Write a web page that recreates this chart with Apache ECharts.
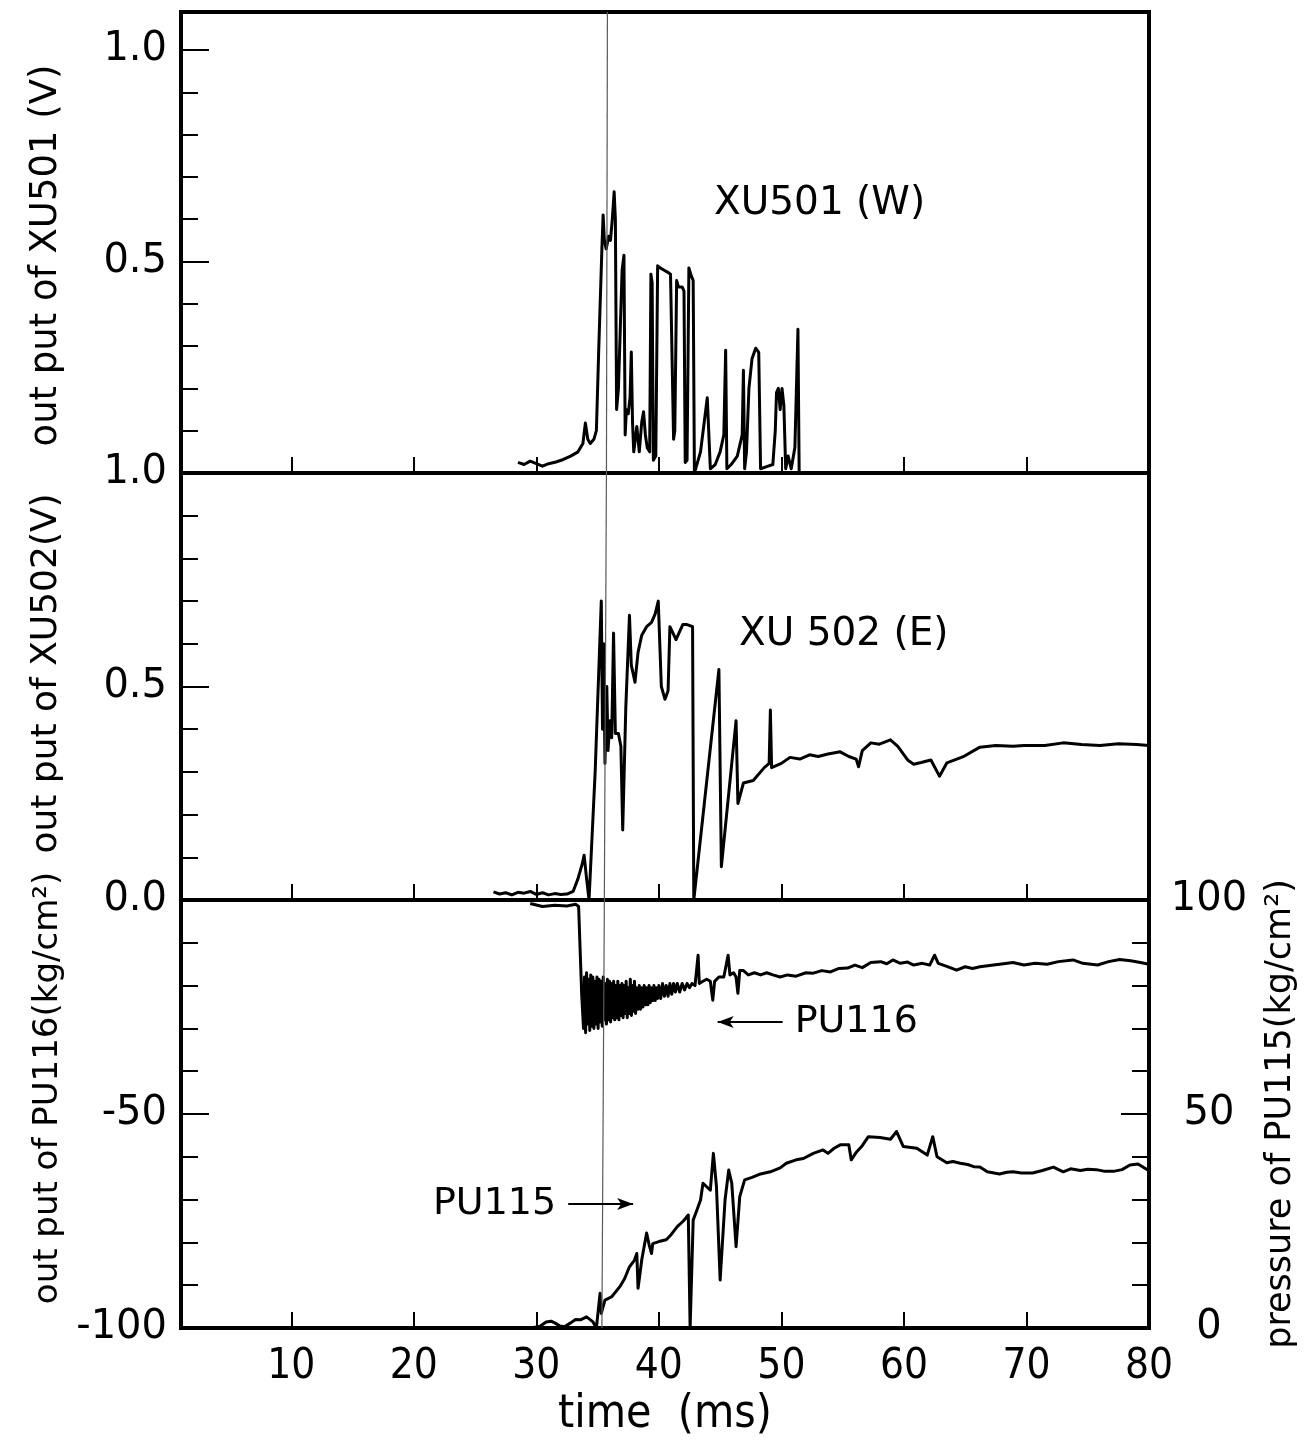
<!DOCTYPE html>
<html>
<head>
<meta charset="utf-8">
<script src="https://cdn.jsdelivr.net/npm/echarts@6/dist/echarts.min.js"></script>
<style>
  html, body { margin: 0; padding: 0; background: #fff; }
  #chart { width: 1308px; height: 1455px; }
</style>
</head>
<body>
<div id="chart"></div>
<script>
// ---- time axis (ms) ----
const timeMin = 1;
const timeMax = 80;
const timeTicks = [10, 20, 30, 40, 50, 60, 70, 80];

// ---- tick values for each panel ----
const xu501Major = [0.5, 1.0];
const xu501Minor = [0.1, 0.2, 0.3, 0.4, 0.6, 0.7, 0.8, 0.9];
const xu502Major = [0, 0.5, 1.0];
const xu502Minor = [0.1, 0.2, 0.3, 0.4, 0.6, 0.7, 0.8, 0.9];
const pu116Major = [-50];
const pu116Labels = [-50, -100];
const pu116Minor = [-90, -80, -70, -60, -40, -30, -20, -10];
const pu115Major = [50];
const pu115Labels = [0, 50, 100];
const pu115Minor = [10, 20, 30, 40, 60, 70, 80, 90];

// ---- cursor line time (ms), top / bottom of each panel ----
const cursorTop = [35.8, 35.72];
const cursorMid = [35.72, 35.55];
const cursorBot = [35.55, 35.35];

// ---- XU501 (W) output, V ----
const xu501 = [
  [28.5,0.025],[29.0,0.02],[29.5,0.028],[30.0,0.022],[30.5,0.016],[31.0,0.022],[31.6,0.026],[32.2,0.032],
  [32.8,0.04],[33.4,0.05],[33.8,0.07],[34.0,0.118],[34.2,0.08],[34.4,0.07],[34.7,0.08],[34.9,0.1],
  [35.1,0.3],[35.35,0.53],[35.45,0.61],[35.55,0.55],[35.7,0.53],[35.9,0.56],[36.05,0.55],[36.2,0.6],
  [36.35,0.665],[36.45,0.6],[36.55,0.15],[36.7,0.2],[37.0,0.48],[37.15,0.515],[37.25,0.09],[37.35,0.15],
  [37.5,0.14],[37.65,0.18],[37.75,0.286],[37.85,0.12],[37.95,0.05],[38.2,0.11],[38.4,0.05],[38.6,0.12],
  [38.75,0.145],[38.9,0.09],[39.05,0.06],[39.25,0.05],[39.35,0.47],[39.45,0.45],[39.55,0.03],[39.75,0.04],
  [39.9,0.49],[40.1,0.485],[40.4,0.48],[40.7,0.475],[40.95,0.47],[41.1,0.47],[41.2,0.08],[41.3,0.1],
  [41.45,0.455],[41.6,0.44],[41.9,0.44],[42.05,0.43],[42.15,0.025],[42.3,0.03],[42.45,0.485],[42.6,0.47],
  [42.8,0.455],[42.9,0.0],[43.4,0.05],[43.95,0.178],[44.2,0.01],[44.6,0.02],[45.0,0.05],[45.3,0.09],
  [45.45,0.29],[45.55,0.01],[45.9,0.02],[46.4,0.04],[46.8,0.09],[46.9,0.243],[47.0,0.01],[47.15,0.05],
  [47.35,0.2],[47.6,0.27],[47.9,0.295],[48.15,0.285],[48.3,0.01],[48.8,0.015],[49.3,0.02],[49.5,0.1],
  [49.6,0.19],[49.75,0.2],[49.9,0.15],[50.05,0.2],[50.2,0.16],[50.35,0.01],[50.55,0.04],[50.8,0.01],
  [51.1,0.06],[51.35,0.34],[51.45,0.0]
];

// ---- XU502 (E) output, V ----
const xu502 = [
  [26.5,0.019],[27.0,0.014],[27.5,0.017],[28.0,0.012],[28.5,0.018],[29.0,0.016],[29.5,0.02],[30.0,0.013],
  [30.5,0.017],[31.0,0.012],[31.5,0.015],[32.0,0.013],[32.5,0.014],[33.0,0.02],[33.4,0.05],[33.75,0.085],
  [33.9,0.105],[34.1,0.05],[34.3,0.0],[34.8,0.3],[35.3,0.70],[35.4,0.4],[35.5,0.6],[35.6,0.32],
  [35.75,0.5],[35.85,0.35],[36.0,0.42],[36.15,0.38],[36.3,0.625],[36.45,0.39],[36.7,0.39],[36.9,0.36],
  [37.05,0.164],[37.3,0.45],[37.6,0.667],[37.75,0.55],[38.05,0.51],[38.3,0.58],[38.6,0.62],[39.0,0.64],
  [39.4,0.65],[39.7,0.67],[39.95,0.70],[40.2,0.5],[40.5,0.47],[40.75,0.49],[40.9,0.64],[41.4,0.61],
  [41.95,0.645],[42.3,0.645],[42.75,0.64],[42.85,0.0],[44.9,0.54],[45.1,0.078],[46.3,0.42],[46.45,0.226],
  [46.9,0.274],[47.7,0.28],[48.6,0.31],[49.0,0.32],[49.1,0.445],[49.2,0.31],[50.0,0.32],[50.7,0.334],
  [51.5,0.33],[52.3,0.34],[53.0,0.336],[53.8,0.342],[54.8,0.347],[55.5,0.336],[56.1,0.33],[56.3,0.312],
  [56.6,0.35],[57.3,0.368],[58.0,0.365],[58.9,0.375],[59.5,0.36],[60.3,0.328],[60.8,0.318],[61.4,0.322],
  [62.2,0.328],[62.9,0.29],[63.5,0.321],[64.8,0.335],[66.2,0.358],[67.5,0.362],[68.9,0.36],[69.8,0.362],
  [71.5,0.362],[73.0,0.368],[74.5,0.364],[76.0,0.362],[77.5,0.366],[79.0,0.364],[80.0,0.362]
];

// ---- PU116 output, kg/cm2 (left axis) ----
const pu116 = [
  [29.5,-0.8],[30.5,-1.5],[31.5,-1.2],[32.5,-1.4],[33.2,-1.0],[33.45,-1.5],[33.7,-22],
  [33.85,-30],[33.93,-18],[34.02,-31],[34.1,-17],[34.19,-29],[34.27,-18.5],[34.36,-30.5],[34.44,-17.5],
  [34.53,-29.5],[34.61,-18],[34.7,-30],[34.78,-19],[34.87,-29],[34.95,-18],[35.04,-30],[35.12,-18.5],
  [35.21,-28.5],[35.29,-19],[35.38,-29.5],[35.46,-18],[35.55,-28],[35.63,-19.5],[35.72,-29],[35.8,-18.5],
  [35.89,-28],[35.97,-19],[36.06,-28.5],[36.14,-19.5],[36.23,-27.5],[36.31,-19],[36.4,-28],[36.48,-20],
  [36.57,-27.5],[36.65,-19],[36.74,-28],[36.82,-20],[36.91,-27],[36.99,-19.5],[37.08,-27.5],[37.16,-20],
  [37.25,-26.5],[37.33,-19],[37.42,-27.5],[37.5,-20.5],[37.59,-26.5],[37.67,-18.5],[37.76,-27],[37.84,-20],
  [37.93,-26],[38.01,-19],[38.1,-26.5],[38.18,-20.5],[38.3,-25.5],[38.4,-20],[38.5,-25.5],[38.6,-20.5],
  [38.7,-25],[38.8,-20],[38.9,-24.5],[39.0,-20.5],[39.1,-24.5],[39.2,-20],[39.3,-24],[39.4,-20.5],
  [39.5,-23.5],[39.6,-20],[39.7,-23.5],[39.8,-20.5],[39.9,-23],[40.0,-20],[40.15,-23],[40.3,-19.5],
  [40.45,-22.5],[40.6,-20],[40.75,-22.5],[40.9,-19.5],[41.05,-22],[41.2,-19.5],[41.35,-21.5],[41.5,-19.5],
  [41.7,-21.5],[41.9,-19.5],[42.1,-21],[42.3,-19.5],[42.5,-20.5],[42.7,-19.5],[42.95,-20],[43.2,-12.9],
  [43.3,-19.5],[43.6,-19],[43.9,-18.5],[44.2,-19],[44.4,-23.4],[44.55,-19],[44.9,-18],[45.3,-18],
  [45.65,-12.9],[45.8,-17.5],[46.1,-17],[46.3,-18],[46.45,-21.8],[46.6,-16.5],[46.9,-16.5],[47.3,-17.5],
  [47.8,-17],[48.3,-17.5],[48.8,-17],[49.3,-17.5],[49.9,-18],[50.5,-17.5],[51.2,-17.8],[52.0,-17],
  [52.6,-17.1],[53.3,-16.5],[54.0,-16.8],[54.7,-16],[55.4,-15.9],[56.0,-15.2],[56.6,-15.8],[57.3,-14.6],
  [58.1,-14.4],[58.6,-14.9],[59.1,-14],[59.7,-14.8],[60.3,-14.5],[60.8,-15.2],[61.5,-14.8],[62.1,-15.2],
  [62.5,-12.9],[62.8,-14.8],[63.5,-15.5],[64.3,-16.4],[65.0,-15.6],[65.6,-16],[66.2,-15.6],[67.0,-15.3],
  [67.8,-15.0],[68.9,-14.6],[69.8,-15.2],[70.7,-14.8],[71.7,-15.0],[72.6,-14.4],[73.8,-14.0],[74.6,-14.8],
  [75.8,-15.2],[76.7,-14.4],[77.6,-13.9],[78.5,-14.2],[79.3,-14.6],[80.0,-15]
];

// ---- PU115 pressure, kg/cm2 (right axis) ----
const pu115 = [
  [26.8,-0.4],[27.5,-0.2],[28.2,-0.6],[29.0,-0.2],[29.8,0.1],[30.3,0.4],[30.8,1.4],[31.2,1.6],
  [31.5,1.2],[31.9,0.5],[32.3,0.3],[32.8,1.2],[33.2,2.0],[33.6,1.9],[34.1,2.6],[34.6,1.5],
  [34.9,0.0],[35.2,8.1],[35.3,3.4],[35.6,6.5],[36.15,7.3],[36.8,9.6],[37.2,11.5],[37.6,14.3],
  [38.0,15.8],[38.2,17.4],[38.3,9.3],[38.45,12.5],[38.6,15.9],[39.0,22.2],[39.2,19.5],[39.4,17.4],
  [39.5,19.7],[40.0,20.2],[40.6,20.6],[41.0,21.8],[41.5,23.7],[42.0,25.0],[42.4,26.4],[42.55,0.0],
  [42.8,25.2],[43.1,27.5],[43.4,29.9],[43.6,33.8],[43.9,33.0],[44.2,32.2],[44.45,40.8],[44.7,33.0],
  [45.0,11.2],[45.4,29.9],[45.7,36.9],[45.95,33.8],[46.3,19.0],[46.6,30.7],[47.0,34.6],[47.6,35.2],
  [48.3,36.0],[49.1,36.5],[49.9,37.4],[50.4,38.5],[51.2,39.3],[51.8,39.6],[52.6,40.8],[53.4,41.6],
  [53.8,40.8],[54.3,42.0],[54.8,42.8],[55.5,42.8],[55.7,39.3],[56.15,41.2],[56.6,42.6],[57.1,44.7],
  [58.05,44.5],[58.9,44.1],[59.4,45.9],[59.95,42.4],[61.05,42.0],[61.9,40.4],[62.35,44.7],[62.7,40.0],
  [63.5,38.6],[64.0,38.9],[64.6,38.5],[65.2,38.2],[65.7,37.7],[66.2,37.6],[66.8,36.5],[67.8,36.0],
  [68.4,36.4],[68.9,36.5],[69.6,36.2],[70.5,36.2],[71.3,36.8],[72.2,37.6],[73.0,36.5],[73.6,37.2],
  [74.4,36.8],[75.0,37.1],[75.7,37.0],[76.4,36.6],[77.1,36.6],[77.8,37.0],[78.45,38.1],[79.1,38.3],
  [79.9,36.9]
];

// ---- annotation arrows [from, to] in data units ----
const pu116Arrow = [[50.1, -28.5], [44.8, -28.5]];
const pu115Arrow = [[32.6, 29.0], [37.9, 29.0]];

const FONT = '"DejaVu Sans", "Liberation Sans", sans-serif';
const BLACK = '#000';
const frameW = 4;

const chart = echarts.init(document.getElementById('chart'), null, { renderer: 'canvas' });

const gridBase = { left: 181, right: 159, show: true, borderColor: BLACK, borderWidth: frameW, backgroundColor: 'transparent' };

function xAxisFor(gridIndex, withLabels) {
  return {
    type: 'value', gridIndex, min: timeMin, max: timeMax,
    axisLine: { show: true, onZero: false, lineStyle: { color: BLACK, width: frameW } },
    axisTick: { show: true, inside: true, length: 16, customValues: timeTicks.slice(0, -1), lineStyle: { color: BLACK, width: 2 } },
    axisLabel: withLabels
      ? { show: true, customValues: timeTicks, margin: 18, color: BLACK, fontSize: 42, fontFamily: '"DejaVu Sans Condensed", ' + FONT }
      : { show: false },
    splitLine: { show: false },
    name: withLabels ? 'time  (ms)' : '',
    nameLocation: 'middle', nameGap: 64,
    nameTextStyle: { color: BLACK, fontSize: 46, fontFamily: '"DejaVu Sans Condensed", ' + FONT }
  };
}

function majorY(opts) {
  return {
    type: 'value', gridIndex: opts.grid, min: opts.min, max: opts.max, position: opts.pos || 'left',
    axisLine: { show: true, onZero: false, lineStyle: { color: BLACK, width: frameW } },
    axisTick: { show: true, inside: true, length: 28, customValues: opts.ticks, lineStyle: { color: BLACK, width: 2 } },
    axisLabel: {
      show: true, customValues: opts.labels, color: BLACK, fontSize: 40, fontFamily: FONT,
      margin: opts.labelMargin || 14, align: opts.labelAlign,
      formatter: opts.fmt
    },
    splitLine: { show: false },
    name: opts.name, nameLocation: 'middle', nameRotate: 90, nameGap: opts.nameGap,
    nameTextStyle: { color: BLACK, fontSize: opts.nameSize || 37, fontFamily: FONT, padding: opts.namePad || 0 }
  };
}

function minorY(grid, min, max, ticks, pos) {
  return {
    type: 'value', gridIndex: grid, min, max, position: pos || 'left',
    axisLine: { show: false },
    axisTick: { show: true, inside: true, length: 17, customValues: ticks, lineStyle: { color: BLACK, width: 2 } },
    axisLabel: { show: false },
    splitLine: { show: false }
  };
}

const fmt1 = v => Number(v).toFixed(1);
const fmt0 = v => String(v);

const lineSeries = (data, xIdx, yIdx, extra) => Object.assign({
  type: 'line', data, xAxisIndex: xIdx, yAxisIndex: yIdx,
  showSymbol: false, symbol: 'none', silent: true, clip: true,
  lineStyle: { color: BLACK, width: 3, join: 'round' }
}, extra || {});

const cursorStyle = { color: '#5a5a5a', width: 1.2, type: 'solid' };
const cursorItem = (t0, t1, y0, y1) => [
  { coord: [t0, y0], symbol: 'none' },
  { coord: [t1, y1], symbol: 'none', label: { show: false } }
];
const arrowItem = (arrow, text) => [
  { coord: arrow[0], symbol: 'none' },
  {
    coord: arrow[1], symbol: 'arrow', symbolSize: [9, 16],
    label: { show: true, position: 'start', distance: 12, formatter: text, color: BLACK, fontSize: 38, fontFamily: FONT },
    lineStyle: { color: BLACK, width: 1.8, type: 'solid' }
  }
];

const option = {
  animation: false,
  backgroundColor: '#fff',
  grid: [
    Object.assign({ top: 12, height: 461 }, gridBase),
    Object.assign({ top: 473, height: 427 }, gridBase),
    Object.assign({ top: 900, height: 428 }, gridBase)
  ],
  xAxis: [xAxisFor(0, false), xAxisFor(1, false), xAxisFor(2, true)],
  yAxis: [
    majorY({ grid: 0, min: 0, max: 1.09, ticks: xu501Major, labels: xu501Major, fmt: fmt1,
             name: 'out put of XU501 (V)', nameGap: 116, namePad: [0, 26, 0, 0] }),
    minorY(0, 0, 1.09, xu501Minor),
    majorY({ grid: 1, min: 0, max: 1, ticks: xu502Major, labels: xu502Major, fmt: fmt1,
             name: 'out put of XU502(V)', nameGap: 116, nameSize: 36, namePad: [0, 0, 0, 26] }),
    minorY(1, 0, 1, xu502Minor),
    majorY({ grid: 2, min: -100, max: 0, ticks: pu116Major, labels: pu116Labels, fmt: fmt0,
             name: 'out put of PU116(kg/cm²)', nameGap: 116, nameSize: 34, namePad: [0, 0, 0, 52] }),
    minorY(2, -100, 0, pu116Minor),
    majorY({ grid: 2, min: 0, max: 100, pos: 'right', ticks: pu115Major, labels: pu115Labels, fmt: fmt0,
             labelMargin: 60, labelAlign: 'center',
             name: 'pressure of PU115(kg/cm²)', nameGap: 114, nameSize: 35 }),
    minorY(2, 0, 100, pu115Minor, 'right')
  ],
  series: [
    lineSeries(xu501, 0, 0, {
      markLine: { silent: true, symbol: 'none', label: { show: false }, lineStyle: cursorStyle,
                  data: [cursorItem(cursorTop[0], cursorTop[1], 1.09, 0)] }
    }),
    lineSeries(xu502, 1, 2, {
      markLine: { silent: true, symbol: 'none', label: { show: false }, lineStyle: cursorStyle,
                  data: [cursorItem(cursorMid[0], cursorMid[1], 1, 0)] }
    }),
    lineSeries(pu116, 2, 4, {
      markLine: { silent: true, symbol: 'none', label: { show: false }, lineStyle: cursorStyle,
                  data: [cursorItem(cursorBot[0], cursorBot[1], 0, -100), arrowItem(pu116Arrow, 'PU116')] }
    }),
    lineSeries(pu115, 2, 6, {
      markLine: { silent: true, symbol: 'none', label: { show: false }, lineStyle: cursorStyle,
                  data: [arrowItem(pu115Arrow, 'PU115')] }
    })
  ],
  graphic: [
    { type: 'text', left: 714, top: 184, style: { text: 'XU501 (W)', fill: BLACK, font: '39px ' + FONT } },
    { type: 'text', left: 739, top: 615, style: { text: 'XU 502 (E)', fill: BLACK, font: '39px ' + FONT } }
  ]
};

chart.setOption(option);
</script>
</body>
</html>
